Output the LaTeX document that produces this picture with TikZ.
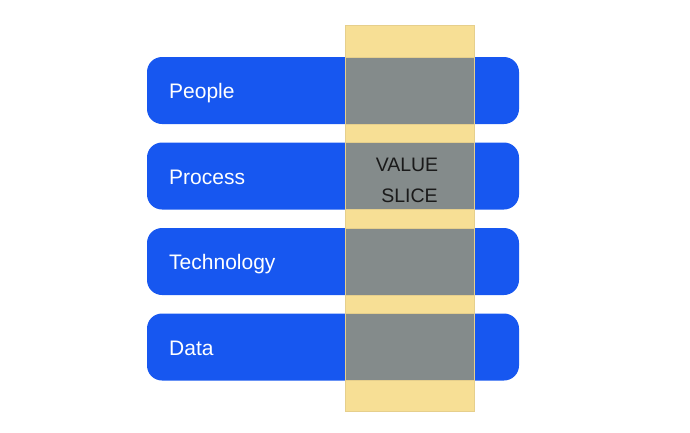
\documentclass[tikz,border=0pt]{standalone}
\usepackage{fontspec}
\setmainfont{Liberation Sans}
\definecolor{rowblue}{HTML}{1757F0}
\definecolor{bandyellow}{HTML}{F7DF95}
\definecolor{bandedge}{HTML}{E6CF8C}
\definecolor{slicegrey}{HTML}{848B8B}
\definecolor{txtdark}{HTML}{1A1A1A}
\tikzset{
  rowbox/.style={fill=rowblue, draw=none, rounded corners=15pt, minimum width=372pt, minimum height=67pt, inner sep=0pt},
  cellbox/.style={fill=slicegrey, draw=bandedge, line width=0.6pt, minimum width=129pt, minimum height=67pt, inner sep=0pt},
  bandbox/.style={fill=bandyellow, draw=bandedge, line width=0.6pt, minimum width=129pt, minimum height=386pt, inner sep=0pt},
  rowlabel/.style={text=white, font=\fontsize{21}{24}\selectfont, anchor=base west, inner sep=0pt},
  slicelabel/.style={text=txtdark, font=\fontsize{19.5}{24}\selectfont, anchor=base, inner sep=0pt}
}
\begin{document}
\begin{tikzpicture}[x=1pt,y=-1pt]
\useasboundingbox (0,0) rectangle (690,432);
\node[rowbox] (r1) at (333,90.5) {};
\node[rowbox] (r2) at (333,176) {};
\node[rowbox] (r3) at (333,261.5) {};
\node[rowbox] (r4) at (333,347) {};
\node[bandbox] (band) at (409.5,218) {};
\node[cellbox] (c1) at (409.5,90.5) {};
\node[cellbox] (c2) at (409.5,176) {};
\node[cellbox] (c3) at (409.5,261.5) {};
\node[cellbox] (c4) at (409.5,347) {};
\node[rowlabel] (t1) at (169,98) {People};
\node[rowlabel] (t2) at (169,184) {Process};
\node[rowlabel] (t3) at (169,269) {Technology};
\node[rowlabel] (t4) at (169,355) {Data};
\node[slicelabel] (v1) at (407,171.5) {VALUE};
\node[slicelabel] (v2) at (409.5,202.5) {SLICE};
\end{tikzpicture}
\end{document}
